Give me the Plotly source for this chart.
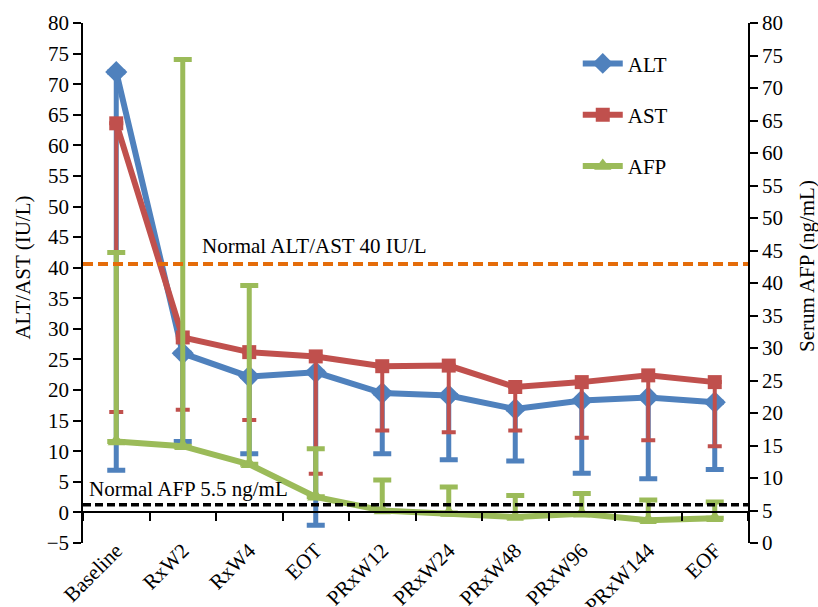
import plotly.graph_objects as go

categories = ["Baseline", "RxW2", "RxW4", "EOT", "PRxW12", "PRxW24",
              "PRxW48", "PRxW96", "PRxW144", "EOF"]

alt_mean = [72.0, 26.0, 22.2, 22.9, 19.5, 19.1, 16.9, 18.3, 18.8, 18.0]
alt_low = [6.9, 11.6, 9.6, -2.1, 9.6, 8.6, 8.4, 6.4, 5.5, 7.0]

ast_mean = [63.6, 28.6, 26.2, 25.5, 23.9, 24.0, 20.5, 21.3, 22.4, 21.3]
ast_low = [16.4, 16.8, 15.1, 6.3, 13.4, 13.1, 13.4, 12.2, 11.8, 10.8]

afp_mean = [15.6, 14.9, 12.1, 7.1, 5.0, 4.6, 4.0, 4.5, 3.5, 3.8]
afp_high = [44.7, 74.4, 39.6, 14.5, 9.7, 8.6, 7.3, 7.6, 6.6, 6.3]

alt_ast_normal = 40.6   # drawn position of "Normal ALT/AST 40 IU/L"
afp_normal = 5.9        # drawn position of "Normal AFP 5.5 ng/mL" (right axis)

left_range = [-5, 80]
right_range = [0, 80]

BLUE = "#4F81BD"
RED = "#C0504D"
GREEN = "#9BBB59"
ORANGE = "#E46C0A"
FONT = "Liberation Serif"
FS = 21

alt_minus = [m - l for m, l in zip(alt_mean, alt_low)]
ast_minus = [m - l for m, l in zip(ast_mean, ast_low)]
afp_plus = [h - m for m, h in zip(afp_mean, afp_high)]
zeros = [0] * len(categories)

fig = go.Figure()

fig.add_trace(go.Scatter(
    x=categories, y=alt_mean, name="ALT", mode="lines+markers",
    line=dict(color=BLUE, width=6),
    marker=dict(symbol="diamond", size=17, color=BLUE),
    error_y=dict(type="data", symmetric=False, array=zeros, arrayminus=alt_minus,
                 color=BLUE, thickness=5, width=9),
    legendgroup="a", xaxis="x", yaxis="y"))

fig.add_trace(go.Scatter(
    x=categories, y=ast_mean, name="AST", mode="lines+markers",
    line=dict(color=RED, width=6),
    marker=dict(symbol="square", size=14, color=RED),
    error_y=dict(type="data", symmetric=False, array=zeros, arrayminus=ast_minus,
                 color=RED, thickness=4, width=7),
    legendgroup="b", xaxis="x", yaxis="y"))

fig.add_trace(go.Scatter(
    x=categories, y=afp_mean, name="AFP", mode="lines+markers",
    line=dict(color=GREEN, width=6),
    marker=dict(symbol="triangle-up", size=15, color=GREEN),
    error_y=dict(type="data", symmetric=False, array=afp_plus, arrayminus=zeros,
                 color=GREEN, thickness=5, width=9),
    legendgroup="c", xaxis="x", yaxis="y2"))

zero_pos = (0 - left_range[0]) / (left_range[1] - left_range[0])

fig.update_layout(
    template="none",
    width=818, height=607,
    margin=dict(l=83, r=70, t=23, b=64, autoexpand=False),
    paper_bgcolor="white", plot_bgcolor="white",
    font=dict(family=FONT, size=FS, color="black"),
    showlegend=True,
    legend=dict(x=0.744, y=0.961, xanchor="left", yanchor="top",
                font=dict(family=FONT, size=FS), tracegroupgap=21,
                bgcolor="rgba(0,0,0,0)", itemwidth=40),
    xaxis=dict(type="category", range=[-0.5, len(categories) - 0.5],
               anchor="free", position=zero_pos, automargin=False,
               showline=True, linecolor="black", linewidth=1.5,
               ticks="outside", ticklen=8, tickwidth=1.5, tickcolor="black",
               tickson="boundaries", showticklabels=False, showgrid=False,
               zeroline=False),
    xaxis2=dict(overlaying="x", range=[-0.5, len(categories) - 0.5],
                tickmode="array", tickvals=list(range(len(categories))),
                ticktext=categories, tickangle=-45, ticks="",
                showline=False, showgrid=False, zeroline=False,
                anchor="free", position=0.019, side="bottom", automargin=False,
                tickfont=dict(family=FONT, size=FS)),
    yaxis=dict(range=left_range, dtick=5, tick0=0, showline=True,
               linecolor="black", linewidth=1.5, ticks="outside", ticklen=8,
               tickwidth=1.5, tickcolor="black", showgrid=False, zeroline=False,
               automargin=False, tickfont=dict(family=FONT, size=FS)),
    yaxis2=dict(range=right_range, dtick=5, tick0=0, overlaying="y",
                side="right", anchor="x", showline=True, linecolor="black",
                linewidth=1.5, ticks="outside", ticklen=8, tickwidth=1.5,
                tickcolor="black", showgrid=False, zeroline=False,
                automargin=False, tickfont=dict(family=FONT, size=FS)),
)

# invisible trace so xaxis2 (label axis) is rendered
fig.add_trace(go.Scatter(x=[0], y=[None], xaxis="x2", yaxis="y",
                         showlegend=False, hoverinfo="skip"))

fig.add_shape(type="line", xref="paper", x0=0, x1=1, yref="y",
              y0=alt_ast_normal, y1=alt_ast_normal,
              line=dict(color=ORANGE, width=4, dash="10px,5px"), layer="above")
fig.add_shape(type="line", xref="paper", x0=0, x1=1, yref="y2",
              y0=afp_normal, y1=afp_normal,
              line=dict(color="black", width=3.5, dash="8px,4px"), layer="above")

fig.add_annotation(x=0.176, y=alt_ast_normal, xref="paper", yref="y",
                   text="Normal ALT/AST 40 IU/L", showarrow=False,
                   xanchor="left", yanchor="bottom", yshift=4,
                   font=dict(family=FONT, size=FS))
fig.add_annotation(x=0.006, y=afp_normal, xref="paper", yref="y2",
                   text="Normal AFP 5.5 ng/mL", showarrow=False,
                   xanchor="left", yanchor="bottom", yshift=2,
                   font=dict(family=FONT, size=FS))

fig.add_annotation(x=-0.090, y=0.530, xref="paper", yref="paper",
                   text="ALT/AST (IU/L)", textangle=-90, showarrow=False,
                   xanchor="center", yanchor="middle",
                   font=dict(family=FONT, size=FS))
fig.add_annotation(x=1.089, y=0.533, xref="paper", yref="paper",
                   text="Serum AFP (ng/mL)", textangle=-90, showarrow=False,
                   xanchor="center", yanchor="middle",
                   font=dict(family=FONT, size=FS))

fig.write_html("out.html",
               config={"displayModeBar": False},
               post_script="document.body.style.margin='0';"
                           "document.body.style.overflow='hidden';")
